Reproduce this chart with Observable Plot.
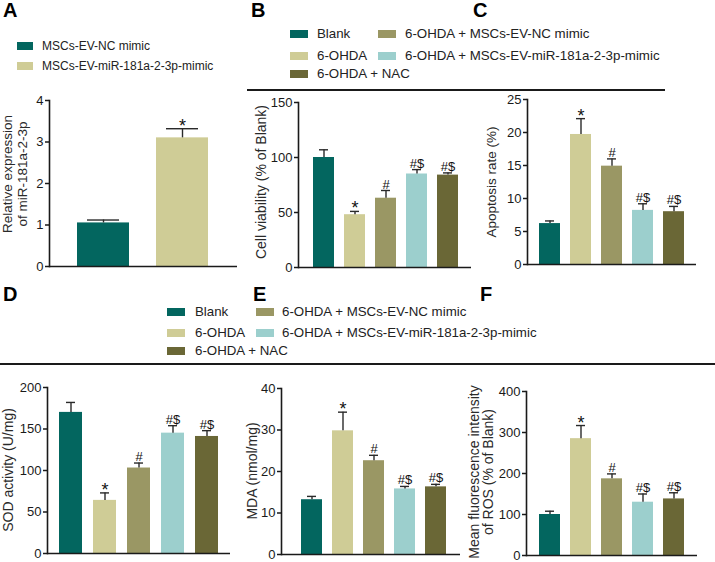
<!DOCTYPE html>
<html><head><meta charset="utf-8">
<script src="https://cdn.jsdelivr.net/npm/d3@7"></script>
<script src="https://cdn.jsdelivr.net/npm/@observablehq/plot@0.6"></script>
<style>
body{margin:0;background:#fff;font-family:"Liberation Sans",Arial,sans-serif;}
#root{position:relative;width:715px;height:562px;overflow:hidden;background:#fff;}
.abs{position:absolute;white-space:nowrap;color:#1a1a1a;line-height:1;}
.letter{font-weight:bold;font-size:20px;color:#000;}
.sw{position:absolute;}
.rot{transform:translate(-50%,-50%) rotate(-90deg);}
.plot{position:absolute;}
</style></head><body><div id="root"></div>
<script>
// ---------- data ----------
const groupsA = ["MSCs-EV-NC mimic", "MSCs-EV-miR-181a-2-3p-mimic"];
const colorsA = ["#03665f", "#cfcc96"];
const expressionA = [1.05, 3.1];
const expressionErrA = [0.07, 0.22];
const sigA = ["", "*"];
const ticksA = [0, 1, 2, 3, 4];

const groups = ["Blank", "6-OHDA", "6-OHDA + MSCs-EV-NC mimic", "6-OHDA + MSCs-EV-miR-181a-2-3p-mimic", "6-OHDA + NAC"];
const colors = ["#03665f", "#cfcc96", "#9a9764", "#9ccfcd", "#6a6736"];
const sig = ["", "*", "#", "#$", "#$"];

const viabilityB = [100, 48, 63, 85, 84];
const viabilityErrB = [7, 3, 7, 4, 2];
const ticksB = [0, 50, 100, 150];

const apoptosisC = [6.2, 19.7, 14.9, 8.2, 8.0];
const apoptosisErrC = [0.4, 2.4, 1.1, 1.0, 0.8];
const ticksC = [0, 5, 10, 15, 20, 25];

const sodD = [170, 64, 103, 145, 141];
const sodErrD = [12, 9, 6, 9, 7];
const ticksD = [0, 50, 100, 150, 200];

const mdaE = [13.2, 29.8, 22.6, 15.8, 16.3];
const mdaErrE = [0.8, 4.5, 1.3, 0.6, 0.6];
const ticksE = [0, 10, 20, 30, 40];

const rosF = [100, 285, 187, 130, 138];
const rosErrF = [8, 32, 12, 20, 15];
const ticksF = [0, 100, 200, 300, 400];

// ---------- helpers ----------
const root = document.getElementById("root");
function addDiv(cls, text, css) {
  const d = document.createElement("div");
  d.className = cls;
  if (text != null) d.textContent = text;
  Object.assign(d.style, css);
  root.appendChild(d);
  return d;
}
function letter(t, x, y) { addDiv("abs letter", t, {left: x + "px", top: y + "px"}); }
function ylabel(t, cx, cy, fs) {
  addDiv("abs rot", t, {left: cx + "px", top: cy + "px", fontSize: fs + "px", color: "#2a2a2a"});
}
function legendItem(color, label, x, y, tx, fs, w) {
  addDiv("sw", null, {left: x + "px", top: (y - 4) + "px", width: w + "px", height: "8px", background: color});
  addDiv("abs", label, {left: tx + "px", top: y + "px", transform: "translateY(-50%)", fontSize: fs + "px", color: "#222"});
}
function hline(x1, x2, y) {
  addDiv("sw", null, {left: x1 + "px", top: (y - 1) + "px", width: (x2 - x1) + "px", height: "2px", background: "#1a1a1a"});
}

function panel(o) {
  const data = o.cats.map((c, i) => ({cat: c, v: o.values[i], hi: o.values[i] + o.errors[i], s: o.sigs[i]}));
  const mb = 8, mr = 4;
  const marginLeft = o.axisX - o.left;
  const marginTop = o.yTop - o.top;
  const height = o.y0 - o.top + mb;
  const width = o.xEnd - o.left + mr;
  const ink = "#2a2a2a";
  const chart = Plot.plot({
    width, height, marginLeft, marginTop, marginBottom: mb, marginRight: mr,
    style: {fontFamily: "'Liberation Sans', Arial, sans-serif", fontSize: "13px", color: "#1a1a1a", background: "transparent", overflow: "visible"},
    x: {type: "band", domain: o.cats, paddingInner: o.pi, paddingOuter: o.po, align: o.align, axis: null},
    y: {domain: [0, o.ymax], axis: null},
    color: {domain: o.cats, range: o.colors},
    marks: [
      Plot.barY(data, {x: "cat", y: "v", fill: "cat"}),
      Plot.ruleX(data, {x: "cat", y1: "v", y2: "hi", stroke: ink, strokeWidth: 1.4}),
      Plot.tickY(data, {x: "cat", y: "hi", stroke: ink, strokeWidth: 1.4, insetLeft: o.cap, insetRight: o.cap}),
      Plot.axisY({ticks: o.ticks, tickFormat: d => String(d), tickSize: 4, tickPadding: 2, strokeWidth: 1.5, label: null, fontSize: 13}),
      Plot.frame({anchor: "left", strokeWidth: 1.6, stroke: "#1a1a1a"}),
      Plot.ruleY([0], {stroke: "#1a1a1a", strokeWidth: 1.6}),
      Plot.text(data.filter(d => d.s === "*"), {x: "cat", y: "hi", text: "s", fontSize: 18, lineAnchor: "bottom", dy: 3, fill: "#111"}),
      Plot.text(data.filter(d => d.s && d.s !== "*"), {x: "cat", y: "hi", text: "s", fontSize: 13, lineAnchor: "bottom", dy: -2, fill: "#111"})
    ]
  });
  chart.classList.add("plot");
  chart.style.left = o.left + "px";
  chart.style.top = o.top + "px";
  root.appendChild(chart);
}

// ---------- panels ----------
panel({cats: groupsA, colors: colorsA, values: expressionA, errors: expressionErrA, sigs: sigA, ticks: ticksA, ymax: 4,
  left: 28, top: 88, axisX: 49, xEnd: 237, yTop: 100, y0: 266, pi: 0.3375, po: 0.344, align: 0.5, cap: 10});
panel({cats: groups, colors, values: viabilityB, errors: viabilityErrB, sigs: sig, ticks: ticksB, ymax: 150,
  left: 268, top: 92, axisX: 298, xEnd: 471, yTop: 102, y0: 267, pi: 0.333, po: 0.41, align: 0.54, cap: 6});
panel({cats: groups, colors, values: apoptosisC, errors: apoptosisErrC, sigs: sig, ticks: ticksC, ymax: 25,
  left: 502, top: 92, axisX: 527, xEnd: 696, yTop: 99, y0: 264, pi: 0.333, po: 0.35, align: 0.5, cap: 6});
panel({cats: groups, colors, values: sodD, errors: sodErrD, sigs: sig, ticks: ticksD, ymax: 200,
  left: 16, top: 376, axisX: 47, xEnd: 230, yTop: 387, y0: 553, pi: 0.314, po: 0.33, align: 0.49, cap: 7});
panel({cats: groups, colors, values: mdaE, errors: mdaErrE, sigs: sig, ticks: ticksE, ymax: 40,
  left: 262, top: 376, axisX: 281, xEnd: 460, yTop: 388, y0: 554, pi: 0.307, po: 0.504, align: 0.59, cap: 6});
panel({cats: groups, colors, values: rosF, errors: rosErrF, sigs: sig, ticks: ticksF, ymax: 400,
  left: 496, top: 376, axisX: 526, xEnd: 697, yTop: 391, y0: 555, pi: 0.333, po: 0.38, align: 0.5, cap: 6});

// ---------- letters ----------
letter("A", 3, 0); letter("B", 251, 0); letter("C", 473, 0);
letter("D", 3, 284); letter("E", 253, 284); letter("F", 480, 284);

// ---------- legends ----------
legendItem(colorsA[0], groupsA[0], 17, 46, 42, 12, 16);
legendItem(colorsA[1], groupsA[1], 17, 66, 42, 12, 16);

const legendCols = [[0, 1, 4], [2, 3]];
function bigLegend(x1, tx1, x2, tx2, rows) {
  legendCols[0].forEach((gi, r) => legendItem(colors[gi], groups[gi], x1, rows[r], tx1, 13.3, 18));
  legendCols[1].forEach((gi, r) => legendItem(colors[gi], groups[gi], x2, rows[r], tx2, 13.3, 18));
}
bigLegend(290, 317, 378, 405, [34, 56, 74]);
bigLegend(167, 195, 256, 282, [312, 333, 351]);

hline(247, 665, 90);
hline(0, 715, 364);

// ---------- y labels ----------
ylabel("Relative expression", 8, 174, 13.5);
ylabel("of miR-181a-2-3p", 23, 174, 13.5);
ylabel("Cell viability (% of Blank)", 261, 182, 14);
ylabel("Apoptosis rate (%)", 492, 182, 13.5);
ylabel("SOD activity (U/mg)", 8, 470, 14);
ylabel("MDA (nmol/mg)", 252, 471, 14);
ylabel("Mean fluorescence intensity", 474, 472, 14);
ylabel("of ROS (% of Blank)", 488, 472, 14);
</script></body></html>
